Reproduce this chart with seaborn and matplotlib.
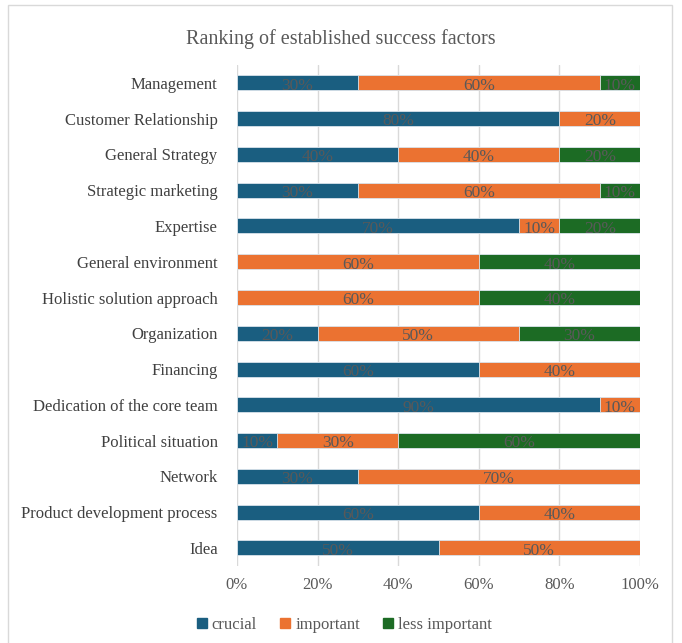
import numpy as np
import pandas as pd
import seaborn as sns
import matplotlib.pyplot as plt
from matplotlib.patches import Rectangle, Patch

# Data (shares in %)
factors = ['Management', 'Customer Relationship', 'General Strategy', 'Strategic marketing',
           'Expertise', 'General environment', 'Holistic solution approach', 'Organization',
           'Financing', 'Dedication of the core team', 'Political situation', 'Network',
           'Product development process', 'Idea']
crucial = [30, 80, 40, 30, 70, 0, 0, 20, 60, 90, 10, 30, 60, 50]
important = [60, 20, 40, 60, 10, 60, 60, 50, 40, 10, 30, 70, 40, 50]
less_important = [10, 0, 20, 10, 20, 40, 40, 30, 0, 0, 60, 0, 0, 0]

colors = {'crucial': '#1A5E80', 'important': '#EB7231', 'less important': '#1C6B24'}

sns.set_style('white')
plt.rcParams['font.family'] = ['Liberation Serif', 'DejaVu Serif']

df = pd.DataFrame({'factor': factors, 'crucial': crucial,
                   'important': important, 'less important': less_important})
df['c1'] = df['crucial']
df['c2'] = df['crucial'] + df['important']
df['c3'] = df['c2'] + df['less important']

fig = plt.figure(figsize=(6.82, 6.43), dpi=100)
ax = fig.add_axes([0.3475, 0.12, 0.591, 0.779])

# stacked by overdrawing cumulative totals
for col, name in [('c3', 'less important'), ('c2', 'important'), ('c1', 'crucial')]:
    sns.barplot(data=df, x=col, y='factor', color=colors[name], orient='h', saturation=1,
                width=0.42, edgecolor='#DCE6EE', linewidth=0.6, ax=ax, zorder=3)

# segment labels
for i, row in df.iterrows():
    left = 0
    for name in ['crucial', 'important', 'less important']:
        v = row[name]
        if v > 0:
            ax.text(left + v / 2, i + 0.08, f'{v}%', ha='center', va='center',
                    fontsize=12.5, color='#595959', zorder=5)
        left += v

ax.set_xlim(0, 100)
ax.set_ylim(13.5, -0.5)
ax.set_xticks(range(0, 101, 20))
ax.set_xticklabels([f'{t}%' for t in range(0, 101, 20)], fontsize=12, color='#595959')
ax.tick_params(axis='y', labelsize=12, labelcolor='#404040', length=0, pad=14)
ax.tick_params(axis='x', length=0, pad=8)
ax.set_xlabel('')
ax.set_ylabel('')
ax.grid(axis='x', color='#D9D9D9', linewidth=1, zorder=0)
sns.despine(ax=ax, left=True, bottom=True, top=True, right=True)

fig.suptitle('Ranking of established success factors', y=0.955, fontsize=14.5, color='#595959')

handles = [Patch(color=colors[k], label=k) for k in ['crucial', 'important', 'less important']]
fig.legend(handles=handles, loc='center', bbox_to_anchor=(0.505, 0.028), ncol=3, frameon=False,
           fontsize=12, handlelength=0.6, handleheight=0.6, handletextpad=0.3,
           columnspacing=1.4, labelcolor='#595959')

fig.patches.append(Rectangle((0.012, -0.01), 0.974, 1.002, transform=fig.transFigure,
                             fill=False, edgecolor='#D9D9D9', linewidth=1))

fig.savefig('out.png', dpi=100)
